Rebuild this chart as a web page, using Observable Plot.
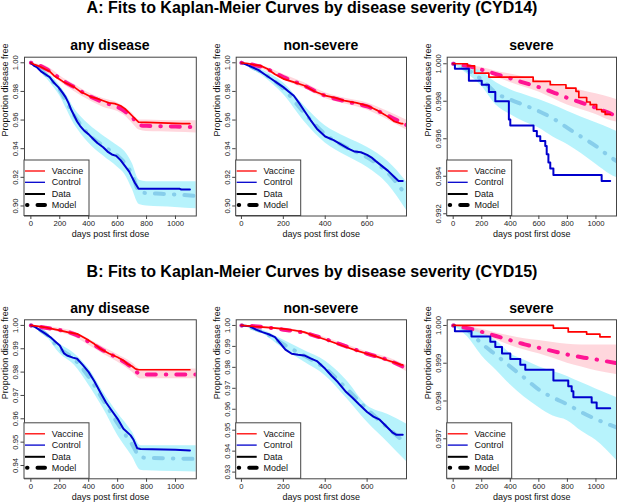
<!DOCTYPE html>
<html>
<head>
<meta charset="utf-8">
<script src="https://cdn.jsdelivr.net/npm/d3@7"></script>
<script src="https://cdn.jsdelivr.net/npm/@observablehq/plot@0.6"></script>
<style>
  body { margin: 0; background: #fff; }
  #root { position: relative; width: 617px; height: 502px; overflow: hidden;
          font-family: "Liberation Sans", Arial, Helvetica, sans-serif; background: #fff; }
  .txt { position: absolute; white-space: nowrap; text-align: center; color: #000; }
  .main { font-weight: bold; font-size: 16px; line-height: 16px; }
  .ptitle { font-weight: bold; font-size: 14px; line-height: 14px; }
  svg.pp { position: absolute; }
</style>
</head>
<body>
<div id="root"></div>
<script>
// ---------------- DATA ----------------
const mainTitles = ["A: Fits to Kaplan-Meier Curves by disease severity (CYD14)",
                    "B: Fits to Kaplan-Meier Curves by disease severity (CYD15)"];
const panelTitles = ["any disease", "non-severe", "severe"];
const legendLabels = ["Vaccine", "Control", "Data", "Model"];
const xLabel = "days post first dose";
const yLabel = "Proportion disease free";

const xTicksLong = [0, 200, 400, 600, 800, 1000];
const xTicksShort = [0, 200, 400, 600];
const yTicksA = [0.90, 0.92, 0.94, 0.96, 0.98, 1.00];
const yTicksA3 = [0.992, 0.994, 0.996, 0.998, 1.000];
const yTicksB1 = [0.94, 0.95, 0.96, 0.97, 0.98, 0.99, 1.00];
const yTicksB2 = [0.93, 0.94, 0.95, 0.96, 0.97, 0.98, 0.99, 1.00];
const yTicksB3 = [0.997, 0.998, 0.999, 1.000];

// Kaplan-Meier data: [day, proportion disease free]
const A1_kmVac = [[0,1],[20,.999],[45,.998],[70,.997],[100,.9955],[130,.994],[160,.991],[190,.989],[220,.987],[260,.985],[300,.983],[340,.980],[380,.978],[420,.976],[460,.975],[500,.9735],[540,.972],[580,.9715],[620,.970],[650,.968],[680,.965],[700,.963],[720,.961],[745,.9585],[900,.958],[1050,.9575],[1100,.9575]];
const A1_kmCtl = [[0,1],[20,.998],[40,.997],[70,.994],[100,.992],[130,.990],[160,.986],[190,.983],[220,.979],[240,.976],[260,.972],[280,.967],[300,.963],[320,.959],[340,.956],[370,.9525],[400,.950],[430,.947],[460,.944],[500,.941],[530,.938],[560,.936],[590,.935],[620,.932],[650,.928],[680,.924],[700,.920],[720,.916],[745,.912],[1030,.912],[1040,.9115],[1100,.9115]];
const A2_kmVac = [[0,1],[30,.9995],[59,.9986],[90,.998],[123,.9958],[160,.992],[200,.9888],[250,.9865],[299,.9841],[350,.980],[400,.9771],[450,.9755],[491,.9736],[550,.972],[600,.9701],[630,.968],[651,.9666],[680,.964],[699,.9624],[730,.959],[763,.9575],[770,.9575]];
const A2_kmCtl = [[0,1],[20,.999],[50,.997],[80,.995],[110,.992],[140,.989],[170,.986],[200,.983],[225,.980],[250,.977],[275,.972],[300,.9665],[330,.960],[360,.954],[400,.9485],[440,.946],[475,.943],[510,.940],[540,.938],[570,.9375],[600,.9357],[620,.934],[640,.9315],[670,.928],[700,.9245],[725,.921],[750,.9175],[770,.9175]];
const A3_kmVac = [[0,1],[100,.99989],[150,.9995],[250,.99929],[560,.99906],[680,.99888],[790,.9987],[860,.99853],[880,.9982],[935,.99796],[960,.99782],[1005,.99756],[1040,.99745],[1065,.9973],[1100,.9973]];
const A3_kmCtl = [[0,1],[12,.99973],[110,.9991],[200,.99888],[250,.9985],[295,.998],[390,.99703],[400,.99671],[563,.99641],[586,.99614],[610,.99588],[645,.99561],[655,.99517],[667,.99473],[680,.99442],[702,.99407],[1040,.99375],[1100,.99375]];
const B1_kmVac = [[0,1],[40,.9997],[88,.9993],[140,.9986],[200,.9979],[260,.997],[320,.9964],[360,.995],[400,.9936],[440,.992],[480,.990],[540,.988],[600,.9864],[640,.985],[665,.9836],[700,.9825],[723,.9814],[745,.981],[1100,.981]];
const B1_kmCtl = [[0,1],[30,.9993],[65,.9979],[100,.9965],[134,.995],[170,.993],[200,.9914],[230,.988],[250,.9871],[290,.9862],[320,.9857],[360,.983],[400,.980],[440,.976],[480,.9714],[520,.967],[550,.9643],[600,.960],[640,.9557],[690,.9529],[710,.951],[735,.9474],[758,.9471],[1000,.9467],[1100,.9464]];
const B2_kmVac = [[0,1],[30,.9998],[60,.9995],[100,.9992],[150,.9988],[200,.9984],[250,.9977],[300,.9968],[350,.995],[400,.9933],[450,.9915],[500,.9897],[550,.988],[600,.9865],[650,.985],[700,.9833],[740,.982],[763,.9812],[770,.9812]];
const B2_kmCtl = [[0,1],[40,.9996],[70,.998],[100,.9968],[130,.9958],[160,.9944],[185,.9915],[210,.9885],[240,.9865],[270,.986],[300,.9857],[330,.9843],[360,.983],[400,.9793],[430,.976],[460,.973],[500,.9682],[530,.9655],[560,.9625],[600,.9587],[630,.9565],[660,.955],[690,.952],[720,.949],[740,.9478],[770,.9478]];
const B3_kmVac = [[0,1],[702,.99993],[806,.99983],[935,.99977],[1028,.9997],[1100,.9997]];
const B3_kmCtl = [[0,1],[12,.99985],[128,.99971],[260,.99957],[295,.99943],[342,.99926],[400,.99911],[470,.99896],[505,.99883],[702,.99854],[806,.99839],[830,.99826],[842,.9981],[970,.99796],[1005,.99781],[1100,.99781]];

// Model fits: [day, mean, lower, upper]
const A1_modVac = [[0,1,1,1],[50,.9985,.998,.999],[100,.996,.994,.998],[150,.993,.991,.995],[200,.989,.987,.991],[300,.983,.980,.985],[400,.977,.974,.979],[500,.9725,.969,.975],[600,.969,.966,.972],[650,.966,.963,.969],[700,.962,.958,.965],[750,.9565,.953,.960],[800,.956,.952,.960],[900,.9557,.9518,.9597],[1000,.9555,.9515,.9595],[1144,.955,.951,.9595]];
const A1_modCtl = [[0,1,1,1],[50,.997,.996,.998],[100,.992,.990,.994],[150,.987,.984,.990],[200,.981,.977,.984],[250,.972,.967,.977],[300,.963,.957,.968],[350,.956,.950,.962],[400,.950,.944,.957],[500,.942,.935,.949],[600,.935,.927,.942],[650,.930,.922,.938],[700,.922,.912,.930],[750,.910,.901,.918],[800,.909,.900,.917],[900,.9085,.8995,.917],[1000,.908,.899,.917],[1144,.907,.898,.917]];
const A2_modVac = [[0,1,1,1],[50,.9988,.998,.9995],[100,.997,.9955,.998],[200,.990,.988,.992],[300,.984,.982,.986],[400,.977,.975,.979],[500,.973,.971,.975],[600,.9695,.967,.972],[700,.963,.960,.966],[788,.9565,.953,.960]];
const A2_modCtl = [[0,1,1,1],[50,.997,.996,.998],[100,.993,.991,.995],[200,.982,.978,.986],[300,.965,.959,.970],[400,.950,.944,.956],[500,.941,.935,.948],[600,.934,.927,.941],[700,.923,.915,.931],[788,.907,.897,.917]];
const A3_modVac = [[0,1,1,1],[100,.99988,.99982,.99994],[200,.99968,.9996,.9998],[300,.99945,.9993,.9996],[400,.99922,.999,.99945],[500,.99898,.99875,.99928],[600,.99875,.9985,.9991],[700,.99848,.99815,.99892],[800,.99818,.9978,.99875],[900,.99792,.99755,.99858],[1000,.99765,.9973,.9984],[1100,.99735,.99698,.9982],[1144,.9972,.9969,.9981]];
const A3_modCtl = [[0,1,1,1],[100,.99968,.99945,.99985],[200,.99915,.9988,.99959],[300,.99844,.9978,.9990],[400,.99809,.99729,.99862],[500,.99779,.9969,.99835],[600,.99747,.99658,.99809],[700,.99708,.9961,.9978],[800,.99658,.9957,.99747],[900,.99609,.9952,.99715],[1000,.99561,.99464,.99685],[1100,.99503,.9941,.99655],[1144,.99481,.99393,.9964]];
const B1_modVac = [[0,1,1,1],[100,.999,.9985,.9995],[200,.998,.997,.9988],[300,.9963,.995,.9973],[400,.993,.9915,.9942],[500,.9893,.9878,.9907],[600,.986,.9843,.9875],[700,.982,.980,.984],[760,.979,.977,.9812],[800,.979,.9772,.9812],[1000,.979,.9772,.9813],[1144,.979,.9772,.9813]];
const B1_modCtl = [[0,1,1,1],[100,.9965,.9958,.9972],[200,.990,.988,.992],[300,.9855,.983,.988],[400,.978,.9745,.9815],[500,.968,.9645,.9715],[600,.958,.953,.9625],[700,.949,.944,.9545],[760,.9435,.938,.9485],[800,.9433,.9377,.9485],[1000,.943,.9374,.9485],[1144,.9428,.9372,.9485]];
const B2_modVac = [[0,1,1,1],[100,.9993,.999,.9996],[200,.998,.9975,.9985],[300,.9965,.9958,.9972],[400,.9935,.9927,.9943],[500,.990,.9891,.9909],[600,.9865,.9855,.9875],[700,.9835,.9823,.9847],[788,.9795,.978,.981]];
const B2_modCtl = [[0,1,1,1],[100,.997,.9962,.9978],[200,.991,.989,.993],[300,.9855,.9825,.988],[400,.9795,.976,.983],[500,.970,.9655,.974],[600,.960,.9539,.9618],[700,.951,.944,.9575],[788,.9435,.935,.953]];
const B3_modVac = [[0,1,1,1],[100,.99993,.9999,.99997],[200,.99983,.99978,.9999],[300,.99972,.99962,.9998],[400,.99961,.99947,.99972],[500,.9995,.99935,.99965],[600,.99941,.99925,.9996],[700,.99932,.99913,.99955],[800,.99923,.999,.9995],[900,.99916,.9989,.99948],[1000,.9991,.9988,.99948],[1144,.999,.9987,.99948]];
const B3_modCtl = [[0,1,1,1],[100,.99987,.9997,.99998],[200,.99952,.9992,.99983],[300,.99922,.99882,.9996],[400,.99891,.99843,.99926],[500,.99861,.9981,.99908],[600,.9983,.99783,.99891],[700,.99809,.9976,.99878],[800,.99791,.99748,.99865],[900,.9977,.9972,.99848],[1000,.99752,.99696,.99832],[1144,.9973,.99643,.99809]];

// ---------------- STYLE / LAYOUT ----------------
const RED = "#FF0000", BLUE = "#0000CD", PINK = "#FF1493", SKY = "#87CEEB";
const PINK_FILL = "#FFB6C1", CYAN_FILL = "#9FEFFB";
const DASH = "0.5 10 9 10";
const FONT = "Liberation Sans, Arial, Helvetica, sans-serif";
const fmt2 = d3.format(".2f"), fmt3 = d3.format(".3f");

const cols = [
  {left: 0,   width: 205, ml: 24,   mr: 9.2},
  {left: 205, width: 205, ml: 30.7, mr: 4},
  {left: 410, width: 207, ml: 36.7, mr: 1}
];
const rows = [
  {top: 38,  height: 202, mt: 18.7, mb: 24.5, titleTop: 38.2},
  {top: 300, height: 202, mt: 19.3, mb: 23.7, titleTop: 301.3}
];

const panels = [
  {r:0, c:0, kmVac:A1_kmVac, kmCtl:A1_kmCtl, modVac:A1_modVac, modCtl:A1_modCtl, xd:[-44,1144], yd:[0.893,1.0039], xt:xTicksLong, yt:yTicksA, yf:fmt2, km:"linear"},
  {r:0, c:1, kmVac:A2_kmVac, kmCtl:A2_kmCtl, modVac:A2_modVac, modCtl:A2_modCtl, xd:[-25,788], yd:[0.893,1.0039], xt:xTicksShort, yt:yTicksA, yf:fmt2, km:"linear"},
  {r:0, c:2, kmVac:A3_kmVac, kmCtl:A3_kmCtl, modVac:A3_modVac, modCtl:A3_modCtl, xd:[-42,1144], yd:[0.99188,1.00035], xt:xTicksLong, yt:yTicksA3, yf:fmt3, km:"step-after"},
  {r:1, c:0, kmVac:B1_kmVac, kmCtl:B1_kmCtl, modVac:B1_modVac, modCtl:B1_modCtl, xd:[-44,1144], yd:[0.9343,1.0024], xt:xTicksLong, yt:yTicksB1, yf:fmt2, km:"linear"},
  {r:1, c:1, kmVac:B2_kmVac, kmCtl:B2_kmCtl, modVac:B2_modVac, modCtl:B2_modCtl, xd:[-25,788], yd:[0.9268,1.0027], xt:xTicksShort, yt:yTicksB2, yf:fmt2, km:"linear"},
  {r:1, c:2, kmVac:B3_kmVac, kmCtl:B3_kmCtl, modVac:B3_modVac, modCtl:B3_modCtl, xd:[-42,1144], yd:[0.99594,1.00015], xt:xTicksLong, yt:yTicksB3, yf:fmt3, km:"step-after"}
];

const root = document.getElementById("root");

function addText(cls, text, left, top, width) {
  const d = document.createElement("div");
  d.className = "txt " + cls;
  d.textContent = text;
  d.style.left = left + "px";
  d.style.top = top + "px";
  d.style.width = width + "px";
  root.appendChild(d);
}

addText("main", mainTitles[0], 0, 0, 624);
addText("main", mainTitles[1], 0, 263.5, 624);

const X = d => d[0];

for (const p of panels) {
  const col = cols[p.c], row = rows[p.r];
  const svg = Plot.plot({
    width: col.width, height: row.height,
    marginLeft: col.ml, marginRight: col.mr, marginTop: row.mt, marginBottom: row.mb,
    x: {domain: p.xd},
    y: {domain: p.yd},
    style: {fontFamily: FONT, fontSize: "7.7px", background: "transparent", overflow: "visible", color: "#000"},
    marks: [
      Plot.areaY(p.modCtl, {x: X, y1: d => d[2], y2: d => d[3], fill: CYAN_FILL, fillOpacity: 0.75, curve: "monotone-x", clip: true}),
      Plot.areaY(p.modVac, {x: X, y1: d => d[2], y2: d => d[3], fill: PINK_FILL, fillOpacity: 0.55, curve: "monotone-x", clip: true}),
      Plot.line(p.modCtl, {x: X, y: d => d[1], curve: "monotone-x", stroke: SKY, strokeWidth: 4, strokeDasharray: DASH, strokeLinecap: "round", clip: true}),
      Plot.line(p.modVac, {x: X, y: d => d[1], curve: "monotone-x", stroke: PINK, strokeWidth: 4, strokeDasharray: DASH, strokeLinecap: "round", clip: true}),
      Plot.line(p.kmCtl, {x: X, y: d => d[1], curve: p.km, stroke: BLUE, strokeWidth: 2, clip: true}),
      Plot.line(p.kmVac, {x: X, y: d => d[1], curve: p.km, stroke: RED, strokeWidth: 1.7, clip: true}),
      Plot.frame({stroke: "#444", strokeWidth: 1}),
      Plot.axisX(p.xt, {tickSize: 3.5, tickFormat: () => "", label: null, stroke: "#444"}),
      Plot.axisY(p.yt, {tickSize: 3.5, tickFormat: () => "", label: null, stroke: "#444"}),
      Plot.text(p.xt, {x: d => d, text: d => String(d), frameAnchor: "bottom", dy: 7.5, lineAnchor: "middle", fill: "#222"}),
      Plot.text(p.yt, {y: d => d, text: d => p.yf(d), frameAnchor: "left", dx: -9, rotate: -90, textAnchor: "middle", lineAnchor: "middle", fill: "#222"}),
      Plot.text([xLabel], {text: d => d, frameAnchor: "bottom", dy: 18, fontSize: 9, lineAnchor: "middle", fill: "#111"}),
      Plot.text([yLabel], {text: d => d, frameAnchor: "left", dx: -19.5, rotate: -90, fontSize: 9, lineAnchor: "middle", fill: "#111"})
    ]
  });
  svg.classList.add("pp");
  svg.style.left = col.left + "px";
  svg.style.top = row.top + "px";

  // legend (bottom-left inside frame)
  const L = col.ml, B = row.height - row.mb;
  const g = d3.select(svg).append("g").attr("font-family", FONT).attr("font-size", 9).attr("text-anchor", "start");
  g.append("rect").attr("x", L).attr("y", B - 55.5).attr("width", 65).attr("height", 55.5)
    .attr("fill", "white").attr("stroke", "#444").attr("stroke-width", 1);
  const offs = [44.5, 33.2, 21.5, 10.5];
  const styles = [
    {stroke: RED, w: 1.3, dash: null},
    {stroke: BLUE, w: 1.3, dash: null},
    {stroke: "#000", w: 2, dash: null},
    {stroke: "#000", w: 4, dash: DASH}
  ];
  legendLabels.forEach((lab, i) => {
    const y = B - offs[i];
    const s = styles[i];
    const ln = g.append("line").attr("x1", L + (s.dash ? 3 : 1)).attr("x2", L + 21).attr("y1", y).attr("y2", y)
      .attr("stroke", s.stroke).attr("stroke-width", s.w);
    if (s.dash) ln.attr("stroke-dasharray", s.dash).attr("stroke-linecap", "round");
    g.append("text").attr("x", L + 27.8).attr("y", y).attr("dy", "0.35em").attr("text-anchor", "start").attr("fill", "#111").text(lab);
  });

  root.appendChild(svg);

  const cx = col.left + col.ml + (col.width - col.ml - col.mr) / 2;
  addText("ptitle", panelTitles[p.c], cx - 80, row.titleTop, 160);
}
</script>
</body>
</html>
